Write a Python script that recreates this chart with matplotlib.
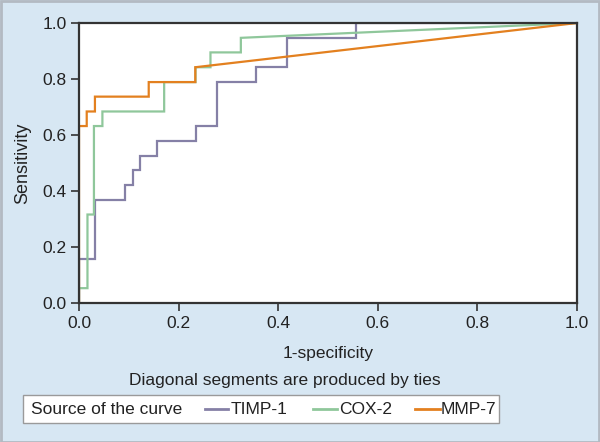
import matplotlib
matplotlib.use("Agg")
import matplotlib.pyplot as plt
from matplotlib.lines import Line2D
from matplotlib.patches import Rectangle

plt.rcParams['font.family'] = ['Liberation Sans', 'DejaVu Sans']

# ROC curve data (1-specificity, sensitivity)
timp1_x = [0.0, 0.0, 0.032, 0.032, 0.093, 0.093, 0.108, 0.108, 0.123, 0.123,
           0.157, 0.157, 0.234, 0.234, 0.278, 0.278, 0.355, 0.355, 0.418, 0.418,
           0.556, 0.556, 1.0]
timp1_y = [0.0, 0.158, 0.158, 0.368, 0.368, 0.421, 0.421, 0.474, 0.474, 0.526,
           0.526, 0.579, 0.579, 0.632, 0.632, 0.789, 0.789, 0.842, 0.842, 0.947,
           0.947, 1.0, 1.0]

cox2_x = [0.0, 0.0, 0.017, 0.017, 0.030, 0.030, 0.047, 0.047, 0.171, 0.171,
          0.234, 0.234, 0.264, 0.264, 0.325, 0.325, 1.0]
cox2_y = [0.0, 0.053, 0.053, 0.316, 0.316, 0.632, 0.632, 0.684, 0.684, 0.789,
          0.789, 0.842, 0.842, 0.895, 0.895, 0.947, 1.0]

mmp7_x = [0.0, 0.0, 0.0155, 0.0155, 0.032, 0.032, 0.140, 0.140, 0.2335, 0.2335, 1.0]
mmp7_y = [0.0, 0.632, 0.632, 0.684, 0.684, 0.737, 0.737, 0.789, 0.789, 0.842, 1.0]

series_names = ["TIMP-1", "COX-2", "MMP-7"]
series_colors = ["#8580a6", "#8fc79b", "#e3801f"]
ticks = [0.0, 0.2, 0.4, 0.6, 0.8, 1.0]
tick_labels = ["0.0", "0.2", "0.4", "0.6", "0.8", "1.0"]

W, H = 600, 442
fig = plt.figure(figsize=(W / 100, H / 100), dpi=100)
fig.patch.set_facecolor("#d7e7f3")

# outer border
fig.add_artist(Rectangle((0.5 / W, 0.5 / H), 1 - 1.5 / W, 1 - 1.5 / H,
                         transform=fig.transFigure, fill=False,
                         edgecolor="#b3bac2", linewidth=2))

ax = fig.add_axes([79 / W, 1 - 303 / H, (577 - 79) / W, (303 - 23) / H])
ax.set_facecolor("white")

for xs, ys, c in zip([timp1_x, cox2_x, mmp7_x], [timp1_y, cox2_y, mmp7_y], series_colors):
    ax.plot(xs, ys, color=c, linewidth=1.6, solid_joinstyle="miter", clip_on=True, zorder=2)

ax.set_xlim(0, 1)
ax.set_ylim(0, 1)
ax.set_xticks(ticks)
ax.set_xticklabels(tick_labels)
ax.set_yticks(ticks)
ax.set_yticklabels(tick_labels)
ax.tick_params(direction="out", length=6, width=1.2, color="#333333",
               labelsize=12.5, labelcolor="#222222", pad=3)
for s in ax.spines.values():
    s.set_color("#333333")
    s.set_linewidth(1.6)
    s.set_zorder(3)

ax.set_xlabel("1-specificity", fontsize=12.5, color="#222222", labelpad=11)
ax.set_ylabel("Sensitivity", fontsize=13, color="#222222", labelpad=8)

fig.text(285 / W, 1 - 380 / H, "Diagonal segments are produced by ties",
         ha="center", va="center", fontsize=12.5, color="#222222")

# legend box
fig.add_artist(Rectangle((23 / W, 1 - 423 / H), (499 - 23) / W, (423 - 395) / H,
                         transform=fig.transFigure, facecolor="white",
                         edgecolor="#9a9a9a", linewidth=1))
ly = 1 - 409 / H
fig.text(31 / W, ly, "Source of the curve", ha="left", va="center",
         fontsize=12.5, color="#222222")
leg_line_x = [(205, 228), (313, 337), (415, 440)]
leg_text_x = [231, 339, 441]
for (x0, x1), tx, name, c in zip(leg_line_x, leg_text_x, series_names, series_colors):
    fig.add_artist(Line2D([x0 / W, x1 / W], [ly, ly], transform=fig.transFigure,
                          color=c, linewidth=2))
    fig.text(tx / W, ly, name, ha="left", va="center", fontsize=12.5, color="#222222")

fig.savefig("out.png", dpi=100, facecolor=fig.get_facecolor())
